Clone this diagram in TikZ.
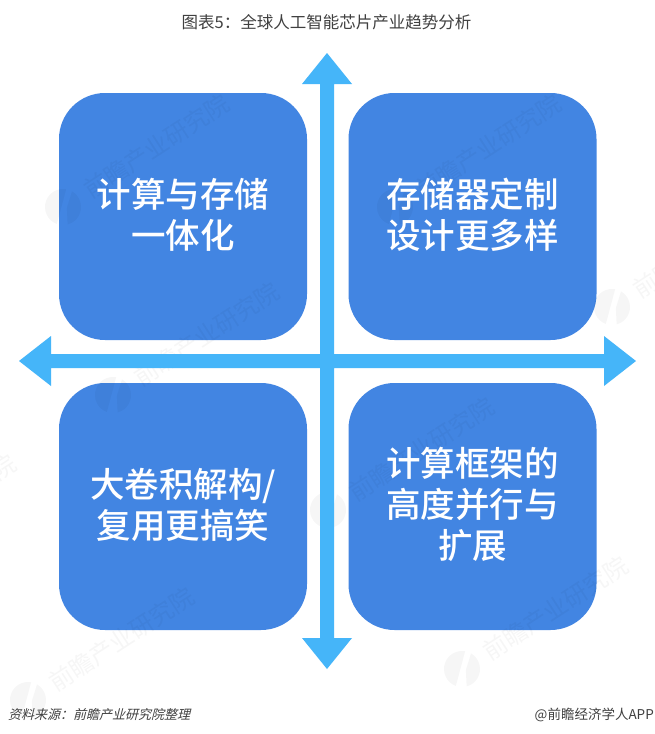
\documentclass[tikz,border=0pt]{standalone}
\usepackage{fontspec}
\setmainfont{Noto Sans CJK SC}
\newfontfamily\boxfont{Noto Sans CJK SC Medium}
\newfontfamily\slantfont{Noto Sans CJK SC}[FakeSlant=0.25]
\definecolor{boxblue}{HTML}{4285E2}
\definecolor{arrowblue}{HTML}{45B5F9}
\tikzset{
 quad/.style={fill=boxblue,rounded corners=46pt,minimum width=248pt,minimum height=247pt,inner sep=0pt,outer sep=0pt},
 quadtext/.style={text=white,font=\boxfont\fontsize{34.5}{41}\selectfont,align=center,inner sep=0pt},
 axisarrow/.style={fill=arrowblue,draw=none},
 caption/.style={inner sep=0pt,text=black!75},
 wmtext/.style={anchor=west,rotate=33,inner sep=0pt,text=black,text opacity=.035,font=\fontsize{24}{24}\selectfont},
 wmlogo/.style={fill=black,fill opacity=.035,draw=none}
}
\newcommand{\wmunit}[3]{%
 \begin{scope}[shift={(#1,#2)},rotate=-15]
  \fill[wmlogo] (95:18) arc[start angle=95,end angle=265,radius=18] -- cycle;
  \fill[wmlogo] (60:18) arc[start angle=60,end angle=-75,radius=18] -- (4,0) -- cycle;
 \end{scope}
 \node[wmtext] (wm#3) at (#1+23,#2-15) {前瞻产业研究院};
}
\begin{document}
\begin{tikzpicture}[x=1pt,y=-1pt]
\useasboundingbox (0,0) rectangle (655,734);
\clip (0,0) rectangle (655,734);
\fill[white] (0,0) rectangle (655,734);
\node[quad] (tl) at (183,216.5) {};
\node[quad] (tr) at (472.5,216.5) {};
\node[quad] (bl) at (183,506.5) {};
\node[quad] (br) at (472.5,506.5) {};
\wmunit{63}{207}{a}
\wmunit{395}{207}{b}
\wmunit{612}{307}{c}
\wmunit{113}{395}{d}
\wmunit{328}{510}{e}
\wmunit{-150}{567}{f}
\wmunit{28}{700}{g}
\wmunit{462}{669}{h}
\fill[axisarrow] (327,53)--(352,84)--(334,84)--(334,354)--(604,354)--(604,336)--(636,361)--(604,386)--(604,368)--(334,368)--(334,638)--(352,638)--(327,669)--(302,638)--(320,638)--(320,368)--(51,368)--(51,386)--(19,361)--(51,336)--(51,354)--(320,354)--(320,84)--(302,84)--cycle;
\node[quadtext] (tlt) at (183,214.5) {计算与存储\\一体化};
\node[quadtext] (trt) at (472.5,214.5) {存储器定制\\设计更多样};
\node[quadtext] (blt) at (183,504.5) {大卷积解构/\\复用更搞笑};
\node[quadtext] (brt) at (472.5,504.5) {计算框架的\\高度并行与\\扩展};
\node[caption,font=\fontsize{16.5}{18}\selectfont] (title) at (326.5,22) {图表5：全球人工智能芯片产业趋势分析};
\node[caption,anchor=west,font=\slantfont\fontsize{13}{14}\selectfont] (src) at (8,715) {资料来源：前瞻产业研究院整理};
\node[caption,anchor=east,font=\fontsize{13.5}{14}\selectfont] (brand) at (654,715) {@前瞻经济学人APP};
\end{tikzpicture}
\end{document}
